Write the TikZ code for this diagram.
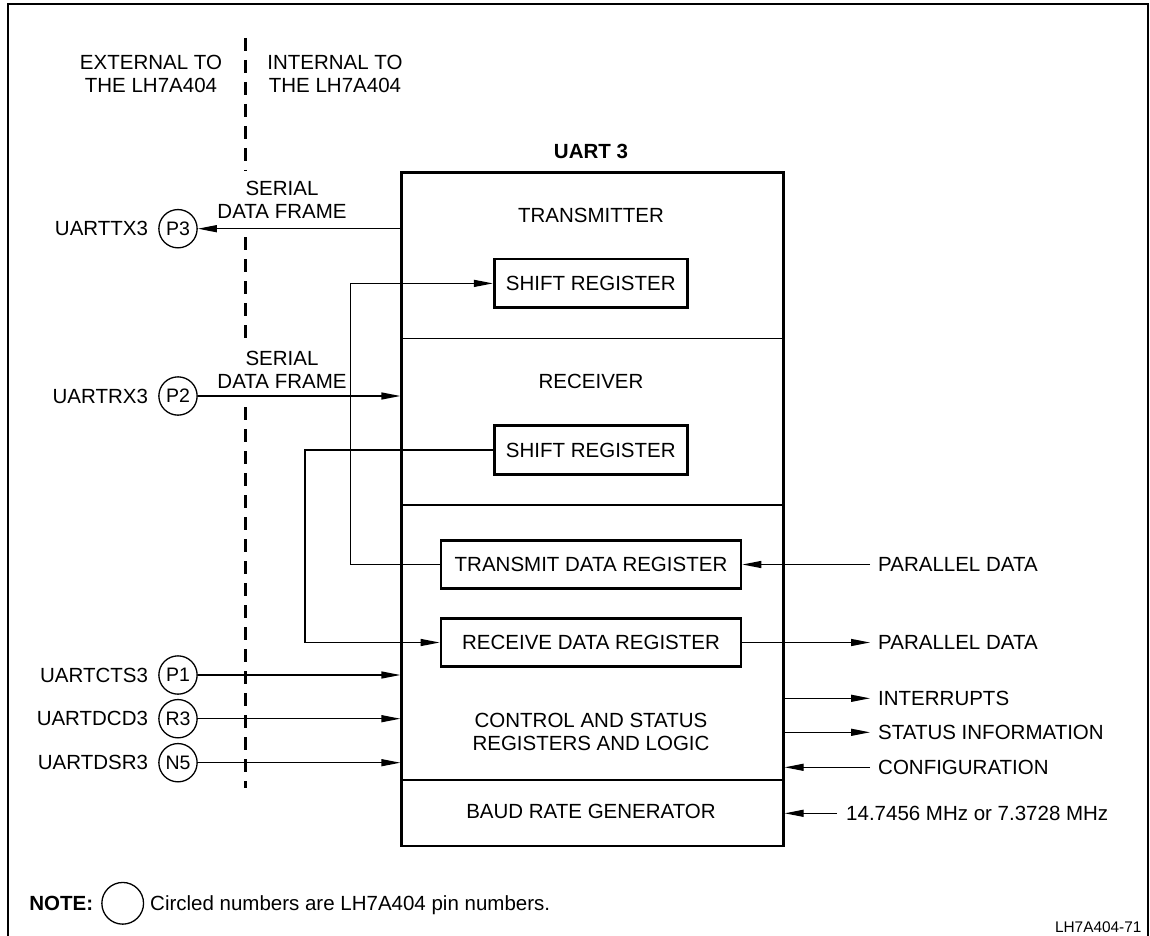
\documentclass[tikz,border=0pt]{standalone}
\usepackage{fontspec}
\setmainfont{Liberation Sans}
\usetikzlibrary{arrows.meta,positioning}
\begin{document}
\begin{tikzpicture}[x=1pt,y=-1pt,
  txt/.style={inner sep=0pt, font=\fontsize{20.5}{23}\selectfont},
  mtxt/.style={txt, align=center},
  regbox/.style={draw, line width=2.7pt, minimum height=48.6pt, inner sep=0pt, txt},
  pin/.style={draw, circle, line width=1.3pt, minimum size=38.3pt, inner sep=0pt, font=\fontsize{19.5}{20}\selectfont},
  conn/.style={line width=1.3pt},
  arr/.style={conn, -{Triangle[length=19pt,width=7pt]}},
  divider/.style={line width=1.3pt},
  dashline/.style={line width=2.7pt, dash pattern=on 13pt off 9pt},
]
\useasboundingbox (0,0) rectangle (1150,936);
% outer frame
\draw[line width=1.5pt] (8,937) -- (8,4) -- (1148,4) -- (1148,937);

% headings
\node[mtxt] (ext) at (151,73.5) {EXTERNAL TO\\THE LH7A404};
\node[mtxt] (int) at (335,73.5) {INTERNAL TO\\THE LH7A404};

% dashed boundary
\coordinate (d0) at (245.7,38);
\coordinate (d1) at (245.7,171);
\coordinate (d2) at (245.7,237);
\coordinate (d3) at (245.7,342);
\coordinate (d4) at (245.7,407);
\coordinate (d5) at (245.7,788);
\draw[dashline] (d0) -- (d1);
\draw[dashline] (d2) -- (d3);
\draw[dashline] (d4) -- (d5);

% UART block
\node[draw, line width=2.7pt, minimum width=381.6pt, minimum height=673.7pt, inner sep=0pt] (uart) at (592.5,509.15) {};
\node[txt, font=\fontsize{20.5}{23}\selectfont\bfseries] (uarttitle) at (591,151.7) {UART 3};
\draw[divider] (uart.west |- 0,338.3) -- (uart.east |- 0,338.3);
\draw[divider] (uart.west |- 0,505) -- (uart.east |- 0,505);
\draw[divider] (uart.west |- 0,780) -- (uart.east |- 0,780);

\node[txt] (txm) at (591,215) {TRANSMITTER};
\node[txt] (rcv) at (591,381.7) {RECEIVER};
\node[mtxt, font=\fontsize{20.5}{22.3}\selectfont] (ctl) at (591,732) {CONTROL AND STATUS\\REGISTERS AND LOGIC};
\node[txt] (baud) at (591,811.7) {BAUD RATE GENERATOR};

\node[regbox, minimum width=193pt] (sr1) at (590.8,283.4) {SHIFT REGISTER};
\node[regbox, minimum width=193pt] (sr2) at (590.8,450) {SHIFT REGISTER};
\node[regbox, minimum width=300pt] (tdr) at (591,564.5) {TRANSMIT DATA REGISTER};
\node[regbox, minimum width=300pt] (rdr) at (591,642.5) {RECEIVE DATA REGISTER};

% pins
\node[pin] (p3) at (178,228.7) {P3};
\node[pin] (p2) at (178,396) {P2};
\node[pin] (p1) at (178,675) {P1};
\node[pin] (r3) at (178,718.7) {R3};
\node[pin] (n5) at (178,762.7) {N5};

\node[txt, anchor=east] (ltx) at ([xshift=-10pt]p3.west) {UARTTX3};
\node[txt, anchor=east] (lrx) at ([xshift=-10pt]p2.west) {UARTRX3};
\node[txt, anchor=east] (lcts) at ([xshift=-10pt]p1.west) {UARTCTS3};
\node[txt, anchor=east] (ldcd) at ([xshift=-10pt]r3.west) {UARTDCD3};
\node[txt, anchor=east] (ldsr) at ([xshift=-10pt]n5.west) {UARTDSR3};

\node[mtxt] (sdf1) at (282,200) {SERIAL\\DATA FRAME};
\node[mtxt] (sdf2) at (282,369.5) {SERIAL\\DATA FRAME};

% right-side labels
\node[txt, anchor=west, inner xsep=8pt] (pd1) at (870,564.5) {PARALLEL DATA};
\node[txt, anchor=west, inner xsep=8pt] (pd2) at (870,642.5) {PARALLEL DATA};
\node[txt, anchor=west, inner xsep=8pt] (intr) at (870,698.3) {INTERRUPTS};
\node[txt, anchor=west, inner xsep=8pt] (stat) at (870,732.3) {STATUS INFORMATION};
\node[txt, anchor=west, inner xsep=8pt] (conf) at (870,767.3) {CONFIGURATION};
\node[txt, anchor=west, inner xsep=9pt] (clk) at (837,813.3) {14.7456 MHz or 7.3728 MHz};

% connectors left
\draw[arr] (uart.west |- p3) -- (p3);
\draw[arr] (p2) -- (uart.west |- p2);
\draw[arr] (p1) -- (uart.west |- p1);
\draw[arr] (r3) -- (uart.west |- r3);
\draw[arr] (n5) -- (uart.west |- n5);

% internal connectors
\coordinate (j1) at (350.7,564.5);
\draw[arr] (tdr.west) -- (j1) |- (sr1.west);
\coordinate (j2) at (305,450);
\draw[arr] (sr2.west) -- (j2) |- (rdr.west);

% connectors right
\draw[arr] (pd1.west) -- (tdr.east);
\draw[arr] (rdr.east) -- (pd2.west);
\draw[arr] (uart.east |- intr.west) -- (intr.west);
\draw[arr] (uart.east |- stat.west) -- (stat.west);
\draw[arr] (conf.west) -- (uart.east |- conf.west);
\draw[arr] (clk.west) -- (uart.east |- clk.west);

% note
\node[txt, font=\fontsize{20.5}{23}\selectfont\bfseries, anchor=east] (note) at (93.3,903.3) {NOTE:};
\node[draw, circle, line width=1.3pt, minimum size=41.7pt, inner sep=0pt] (notec) at (122.7,903.3) {};
\node[txt, anchor=base west] (notet) at (150,910.6) {Circled numbers are LH7A404 pin numbers.};
\node[inner sep=0pt, font=\fontsize{15.4}{17}\selectfont, anchor=east] (fig) at (1141.7,926.7) {LH7A404-71};
\end{tikzpicture}
\end{document}
